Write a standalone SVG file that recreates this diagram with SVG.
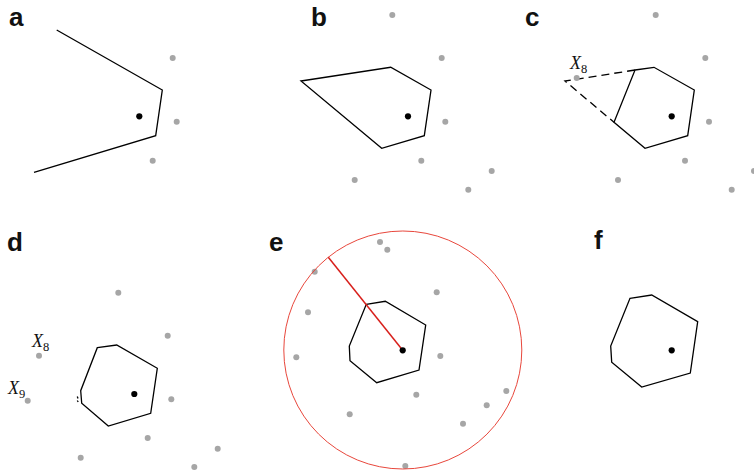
<svg xmlns="http://www.w3.org/2000/svg" width="754" height="471" viewBox="0 0 754 471">
<style>
.bg{fill:#fff}
.g{fill:#a6a6a6}
.k{fill:#000}
.ln{fill:none;stroke:#000;stroke-width:1.3;stroke-linejoin:miter}
.dash{fill:none;stroke:#000;stroke-width:1.3;stroke-dasharray:8 5}
.lbl{font-family:"Liberation Sans",Arial,sans-serif;font-weight:bold;font-size:26px;fill:#111}
.m{font-family:"Liberation Serif","Times New Roman",serif;font-style:italic;font-size:18px;fill:#111}
.sub{font-style:normal;font-size:12.5px}
.circ{fill:none;stroke:#e8473c;stroke-width:1}
.rad{stroke:#d8201c;stroke-width:1.5}
</style>
<rect class="bg" x="0" y="0" width="754" height="471"/>

<g id="panel-a">
<text class="lbl" x="9" y="25.5">a</text>
<polyline class="ln" points="56.7,30 162.3,90 155.7,135.7 34,172.3"/>
<circle class="g" cx="172.7" cy="58" r="3"/>
<circle class="g" cx="176.7" cy="121.7" r="3"/>
<circle class="g" cx="152.7" cy="160.7" r="3"/>
<circle class="k" cx="139.3" cy="116.3" r="3.1"/>
</g>

<g id="panel-b">
<text class="lbl" x="311" y="26">b</text>
<polygon class="ln" points="301,81 390.7,67.3 431,90 424.3,135.7 381.7,148.3"/>
<circle class="g" cx="392.3" cy="15" r="3"/>
<circle class="g" cx="441.7" cy="58" r="3"/>
<circle class="g" cx="445.3" cy="121.7" r="3"/>
<circle class="g" cx="421.3" cy="160.7" r="3"/>
<circle class="g" cx="354.7" cy="180" r="3"/>
<circle class="g" cx="491.7" cy="171" r="3"/>
<circle class="g" cx="468.3" cy="189.7" r="3"/>
<circle class="k" cx="408" cy="116.3" r="3.1"/>
</g>

<g id="panel-c">
<text class="lbl" x="525" y="25.7">c</text>
<polygon class="ln" points="635,70 654,67.3 694.3,90 687.7,135.7 645,148.3 614,122.3"/>
<polyline class="dash" points="635,70 565,81 614,122.3"/>
<circle class="g" cx="655.7" cy="15" r="3"/>
<circle class="g" cx="705.3" cy="58" r="3"/>
<circle class="g" cx="709" cy="121.7" r="3"/>
<circle class="g" cx="685" cy="160.7" r="3"/>
<circle class="g" cx="618" cy="180" r="3"/>
<circle class="g" cx="731.7" cy="189.7" r="3"/>
<circle class="g" cx="754" cy="171" r="3"/>
<circle class="g" cx="576.7" cy="78" r="3"/>
<text class="m" x="570" y="68.5">X<tspan class="sub" dy="4">8</tspan></text>
<circle class="k" cx="671.7" cy="116.3" r="3.1"/>
</g>

<g id="panel-d">
<text class="lbl" x="7" y="250.5">d</text>
<polygon class="ln" points="97.3,347.7 116.7,345 157.3,368.3 150.7,413.3 108.3,426 81.7,403.3 80.7,390.7"/>
<line class="ln" x1="77.3" y1="396.5" x2="78" y2="398.5" stroke-width="1"/>
<line class="ln" x1="77.3" y1="400.5" x2="78.2" y2="402" stroke-width="1"/>
<circle class="g" cx="118.3" cy="292.7" r="3"/>
<circle class="g" cx="167.7" cy="335.7" r="3"/>
<circle class="g" cx="171.3" cy="399.3" r="3"/>
<circle class="g" cx="147.7" cy="438" r="3"/>
<circle class="g" cx="217.7" cy="448.7" r="3"/>
<circle class="g" cx="80.7" cy="457.7" r="3"/>
<circle class="g" cx="194.3" cy="467" r="3"/>
<circle class="g" cx="39" cy="355.7" r="3"/>
<circle class="g" cx="27.7" cy="400.7" r="3"/>
<text class="m" x="32" y="347.3">X<tspan class="sub" dy="4">8</tspan></text>
<text class="m" x="8" y="394">X<tspan class="sub" dy="4">9</tspan></text>
<circle class="k" cx="134.3" cy="394" r="3.1"/>
</g>

<g id="panel-e">
<text class="lbl" x="269" y="250.5">e</text>
<circle class="g" cx="380" cy="242" r="3"/>
<circle class="g" cx="387.3" cy="249.7" r="3"/>
<circle class="g" cx="314.7" cy="271.7" r="3"/>
<circle class="g" cx="436.7" cy="292.3" r="3"/>
<circle class="g" cx="308" cy="312.3" r="3"/>
<circle class="g" cx="296.3" cy="357.3" r="3"/>
<circle class="g" cx="440.3" cy="356" r="3"/>
<circle class="g" cx="416.3" cy="394.7" r="3"/>
<circle class="g" cx="506.3" cy="391" r="3"/>
<circle class="g" cx="486.7" cy="405.3" r="3"/>
<circle class="g" cx="349.7" cy="414.3" r="3"/>
<circle class="g" cx="463" cy="423.7" r="3"/>
<circle class="g" cx="405.3" cy="466" r="3"/>
<circle class="circ" cx="402.8" cy="350" r="119"/>
<polygon class="ln" points="366.3,304.3 385.3,301.3 425.7,325 419,370 376.7,382.7 350,360.7 349.3,346"/>
<line class="rad" x1="402.7" y1="350.3" x2="328.3" y2="257.3"/>
<circle class="k" cx="402.7" cy="350.3" r="3.1"/>
</g>

<g id="panel-f">
<text class="lbl" x="594" y="249">f</text>
<polygon class="ln" points="630,298.3 651.7,295 697.7,321.7 690.3,373 641.7,387 611.7,362.3 610.7,346"/>
<circle class="k" cx="671.7" cy="350.3" r="3.1"/>
</g>
</svg>
